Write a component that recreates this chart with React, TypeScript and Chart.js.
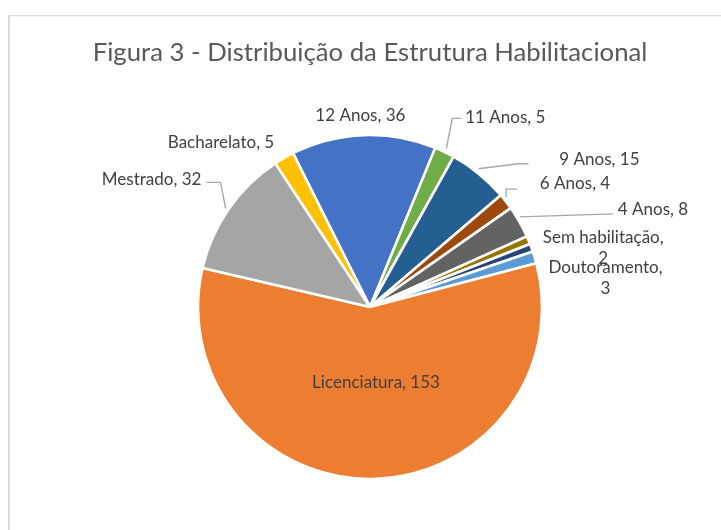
import React, { useEffect, useRef } from 'react';
import { Chart, registerables } from 'chart.js';

Chart.register(...registerables);

const TITLE = 'Figura 3 - Distribuição da Estrutura Habilitacional';

// slices in clockwise order, starting from the "12 Anos" slice
const categories = [
  '12 Anos',
  '11 Anos',
  '9 Anos',
  '6 Anos',
  '4 Anos',
  'Sem habilitação',
  'Outro',
  'Doutoramento',
  'Licenciatura',
  'Mestrado',
  'Bacharelato',
];
const values = [36, 5, 15, 4, 8, 2, 2, 3, 153, 32, 5];
const colors = [
  '#4472C4',
  '#70AD47',
  '#255E91',
  '#9E480E',
  '#636363',
  '#997300',
  '#264478',
  '#5B9BD5',
  '#ED7D31',
  '#A5A5A5',
  '#FFC000',
];

// label placement relative to the slice's rim anchor (null = label hidden)
type Layout = {
  dx: number;
  dy: number;
  split?: boolean;
  inside?: number;
  leader?: number[][];
} | null;

const labelLayout: Layout[] = [
  { dx: -3, dy: -16 },
  { dx: 59, dy: -31, leader: [[0, 0], [6, -30], [15, -30]] },
  { dx: 118, dy: -11, leader: [[-3, -2], [37, -7], [47, -7]] },
  { dx: 66, dy: -16, leader: [[-3, -2], [-3, -10], [8, -10]] },
  { dx: 130, dy: -10, leader: [[-3, -3], [90, -6]] },
  { dx: 71, dy: -1, split: true },
  null,
  { dx: 67, dy: 11, split: true },
  { dx: 5, dy: 0, inside: 0.44 },
  { dx: -74, dy: -27, leader: [[0, 2], [-5, -24], [-19, -24]] },
  { dx: -61, dy: -12 },
];

const FONT = 'Lato, "Open Sans", sans-serif';

function fitSize(ctx: CanvasRenderingContext2D, text: string, target: number) {
  ctx.font = `20px ${FONT}`;
  const w = ctx.measureText(text).width;
  return (20 * target) / w;
}

const decorPlugin = {
  id: 'decor',
  beforeDraw(chart: any) {
    const ctx = chart.ctx as CanvasRenderingContext2D;
    ctx.save();
    ctx.fillStyle = '#ffffff';
    ctx.fillRect(0, 0, chart.width, chart.height);
    ctx.fillStyle = '#d9d9d9';
    ctx.fillRect(8, 15, chart.width - 8, 1.3);
    ctx.fillRect(8, 15, 2, chart.height - 15);
    // title
    const ts = fitSize(ctx, TITLE, 555);
    ctx.font = `${ts}px ${FONT}`;
    ctx.fillStyle = '#595959';
    ctx.textAlign = 'center';
    ctx.textBaseline = 'middle';
    ctx.fillText(TITLE, (chart.chartArea.left + chart.chartArea.right) / 2, 53);
    ctx.restore();
  },
  afterDatasetsDraw(chart: any) {
    const ctx = chart.ctx as CanvasRenderingContext2D;
    const meta = chart.getDatasetMeta(0);
    ctx.save();
    const ls = fitSize(ctx, 'Licenciatura, 153', 128);
    meta.data.forEach((arc: any, i: number) => {
      const lay = labelLayout[i];
      if (!lay) return;
      const { x, y, startAngle, endAngle, outerRadius } = arc.getProps(
        ['x', 'y', 'startAngle', 'endAngle', 'outerRadius'],
        true
      );
      const mid = (startAngle + endAngle) / 2;
      const rr = lay.inside ? outerRadius * lay.inside : outerRadius + 4;
      const ax = x + Math.cos(mid) * rr;
      const ay = y + Math.sin(mid) * rr;
      if (lay.leader) {
        ctx.strokeStyle = '#a6a6a6';
        ctx.lineWidth = 1.4;
        ctx.beginPath();
        lay.leader.forEach((p, k) => {
          if (k === 0) ctx.moveTo(ax + p[0], ay + p[1]);
          else ctx.lineTo(ax + p[0], ay + p[1]);
        });
        ctx.stroke();
      }
      const lines = lay.split
        ? [`${categories[i]},`, `${values[i]}`]
        : [`${categories[i]}, ${values[i]}`];
      ctx.font = `${ls}px ${FONT}`;
      ctx.fillStyle = '#404040';
      ctx.textAlign = 'center';
      ctx.textBaseline = 'middle';
      lines.forEach((t, k) => {
        ctx.fillText(t, ax + lay.dx, ay + lay.dy + k * 21);
      });
    });
    ctx.restore();
  },
};

export default function App() {
  const ref = useRef<HTMLCanvasElement | null>(null);
  useEffect(() => {
    if (!ref.current) return;
    const chart = new Chart(ref.current, {
      type: 'pie',
      data: {
        labels: categories,
        datasets: [
          {
            data: values,
            backgroundColor: colors,
            borderColor: '#ffffff',
            borderWidth: 2.6,
          },
        ],
      },
      options: {
        responsive: false,
        animation: false,
        rotation: -26.6,
        radius: 172,
        layout: { padding: { left: 198, right: 179, top: 135, bottom: 51 } },
        plugins: {
          legend: { display: false },
          title: { display: false },
          tooltip: { enabled: false },
        },
      },
      plugins: [decorPlugin],
    });
    return () => chart.destroy();
  }, []);
  return (
    <div style={{ position: 'absolute', left: 0, top: 0, width: 721, height: 530 }}>
      <canvas ref={ref} width={721} height={530} style={{ display: 'block' }} />
    </div>
  );
}
